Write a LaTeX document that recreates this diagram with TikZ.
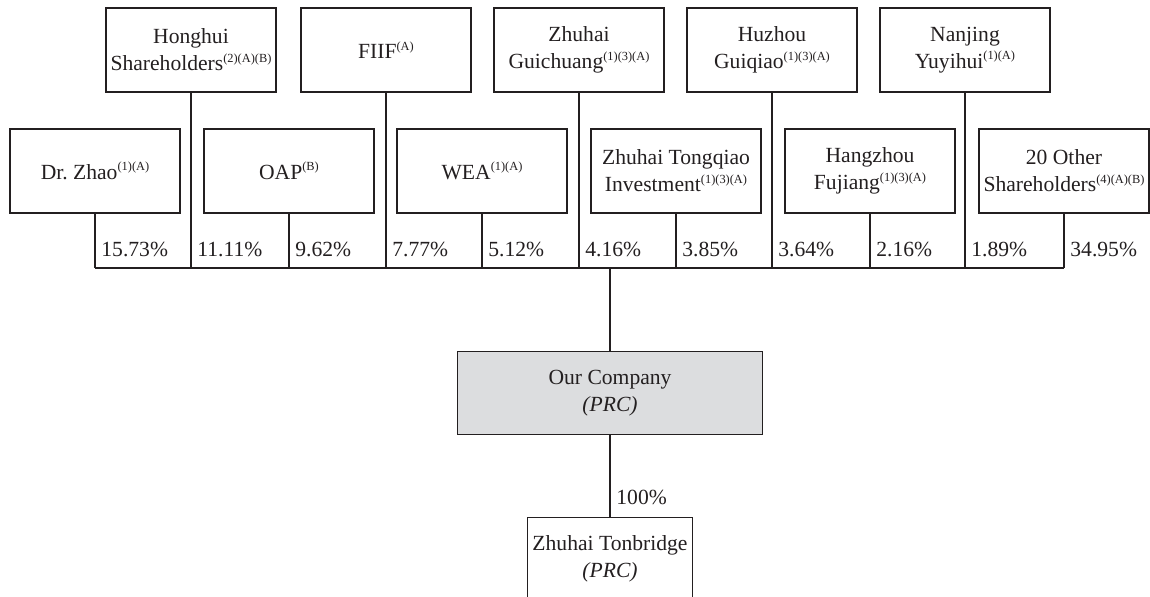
\documentclass[tikz,border=0pt]{standalone}
\usepackage{fontspec}
\setmainfont{Liberation Serif}
\usetikzlibrary{calc}
\definecolor{ink}{RGB}{35,31,32}
\definecolor{boxgray}{RGB}{220,221,223}
\newcommand{\shnote}[1]{\raisebox{0.85ex}{\fontsize{6.2}{7}\selectfont #1}}
\frenchspacing

\begin{document}
\begin{tikzpicture}[x=0.5pt,y=-0.5pt,
  every node/.style={font=\fontsize{10.8}{13.5}\selectfont,text=ink},
  holder/.style={draw=ink,line width=0.6pt,align=center,minimum width=85pt,minimum height=42pt,inner sep=1pt},
  pct/.style={anchor=base west,inner sep=0pt}]
  \useasboundingbox (0,0) rectangle (1150,597);
  % upper row
  \path (191,50) node[holder] (hong) {Honghui\\Shareholders\shnote{(2)(A)(B)}}
  (386,50) node[holder] (fiif) {FIIF\shnote{(A)}}
  (579,50) node[holder] (guic) {Zhuhai\\Guichuang\shnote{(1)(3)(A)}}
  (772,50) node[holder] (huz) {Huzhou\\Guiqiao\shnote{(1)(3)(A)}}
  (965,50) node[holder] (nanj) {Nanjing\\Yuyihui\shnote{(1)(A)}};
  % lower row
  \path (95,171) node[holder] (zhao) {Dr. Zhao\shnote{(1)(A)}}
  (289,171) node[holder] (oap) {OAP\shnote{(B)}}
  (482,171) node[holder] (wea) {WEA\shnote{(1)(A)}}
  (676,171) node[holder] (tong) {Zhuhai Tongqiao\\Investment\shnote{(1)(3)(A)}}
  (870,171) node[holder] (hang) {Hangzhou\\Fujiang\shnote{(1)(3)(A)}}
  (1064,171) node[holder] (other) {20 Other\\Shareholders\shnote{(4)(A)(B)}};
  % company and subsidiary
  \node[holder,fill=boxgray,minimum width=152.5pt,minimum height=41.5pt] (ourco) at (610,393) {Our Company\\\textit{(PRC)}};
  \node[holder,minimum width=82.5pt,minimum height=41.5pt] (tonb) at (610,559) {Zhuhai Tonbridge\\\textit{(PRC)}};
  \coordinate (hub) at (610,268);
  \begin{scope}[draw=ink,line width=0.6pt]
    \foreach \n in {zhao,hong,oap,fiif,wea,guic,tong,huz,hang,nanj,other}
      \draw (\n.south) -- (\n.south |- hub);
    \draw (zhao.south |- hub) -- (other.south |- hub);
    \draw (hub) -- (ourco.north);
    \draw (ourco.south) -- (tonb.north);
  \end{scope}
  % percentages
  \foreach \n/\v in {zhao/15.73,hong/11.11,oap/9.62,fiif/7.77,wea/5.12,guic/4.16,tong/3.85,huz/3.64,hang/2.16,nanj/1.89,other/34.95}
    \node[pct] (p-\n) at ($(\n.south |- hub)+(6,-11)$) {\v\%};
  \node[pct] (p-tonb) at ($(tonb.north)+(6,-12)$) {100\%};
\end{tikzpicture}
\end{document}
